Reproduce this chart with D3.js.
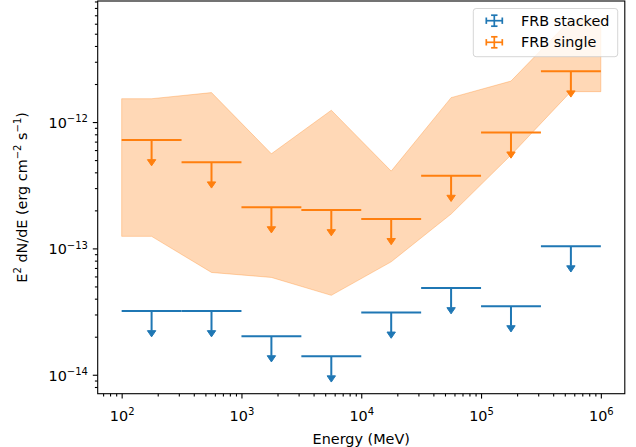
<!DOCTYPE html>
<html>
<head>
<meta charset="utf-8">
<script src="https://cdn.jsdelivr.net/npm/d3@7"></script>
<style>
  body { margin: 0; background: #fff; }
  svg text { font-family: "DejaVu Sans", sans-serif; fill: #000; }
</style>
</head>
<body>
<svg id="chart" width="636" height="447"></svg>
<script>
// Energy bins (MeV): edges and logarithmic centres
const binLow    = [1e2, 3.162e2, 1e3, 3.162e3, 1e4, 3.162e4, 1e5, 3.162e5];
const binHigh   = [3.162e2, 1e3, 3.162e3, 1e4, 3.162e4, 1e5, 3.162e5, 1e6];
const binCenter = [1.778e2, 5.623e2, 1.778e3, 5.623e3, 1.778e4, 5.623e4, 1.778e5, 5.623e5];

// Upper limits on E^2 dN/dE (erg cm^-2 s^-1)
const stackedUL = [3.19e-14, 3.19e-14, 2.02e-14, 1.40e-14, 3.11e-14, 4.85e-14, 3.49e-14, 1.04e-13];
const singleUL  = [7.2e-13, 4.8e-13, 2.12e-13, 2.01e-13, 1.71e-13, 3.76e-13, 8.28e-13, 2.52e-12];

// Spread of the single-burst limits
const bandEnergy = [1e2, 1.778e2, 5.623e2, 1.778e3, 5.623e3, 1.778e4, 5.623e4, 1.778e5, 5.623e5, 1e6];
const bandHigh   = [1.53e-12, 1.53e-12, 1.71e-12, 5.61e-13, 1.24e-12, 4.09e-13, 1.56e-12, 2.11e-12, 6.5e-12, 6.5e-12];
const bandLow    = [1.245e-13, 1.245e-13, 6.45e-14, 5.89e-14, 4.25e-14, 7.83e-14, 1.87e-13, 5.48e-13, 1.74e-12, 1.74e-12];

// Axis ticks: major values and their exponent labels
const xTickValues = [1e2, 1e3, 1e4, 1e5, 1e6];
const xTickExp    = ["2", "3", "4", "5", "6"];
const yTickValues = [1e-14, 1e-13, 1e-12];
const yTickExp    = ["\u221214", "\u221213", "\u221212"];

const seriesNames = ["FRB stacked", "FRB single"];
const colors = { stacked: "#1f77b4", single: "#ff7f0e" };

const ulArrowFraction = 0.3;   // length of the upper-limit arrow, as a fraction of the value

const fontSize = "14.4px";
const supSize = "10px";
const supShift = 5.8;

const svg = d3.select("#chart");
const plot = { left: 97.7, right: 624.8, top: 1, bottom: 393.7 };

const x = d3.scaleLog().domain([Math.pow(10, 1.8), Math.pow(10, 6.2)]).range([plot.left, plot.right]);
const y = d3.scaleLog().domain([Math.pow(10, -14.15), Math.pow(10, -11.042)]).range([plot.bottom, plot.top]);

// minor tick positions (2..9 x 10^k) inside the domains
function minorTicks(scale, k0, k1) {
  const [d0, d1] = scale.domain();
  const out = [];
  for (let k = k0; k <= k1; k++)
    for (let m = 2; m <= 9; m++) {
      const v = m * Math.pow(10, k);
      if (v >= d0 && v <= d1) out.push(v);
    }
  return out;
}

const defs = svg.append("defs");
defs.append("clipPath").attr("id", "plotClip").append("rect")
  .attr("x", plot.left).attr("y", plot.top)
  .attr("width", plot.right - plot.left).attr("height", plot.bottom - plot.top);

const body = svg.append("g").attr("clip-path", "url(#plotClip)");

// shaded band
const area = d3.area()
  .x((d, i) => x(bandEnergy[i]))
  .y0((d, i) => y(bandLow[i]))
  .y1((d, i) => y(bandHigh[i]));
body.append("path")
  .datum(bandEnergy)
  .attr("d", area)
  .attr("fill", colors.single).attr("fill-opacity", 0.3)
  .attr("stroke", colors.single).attr("stroke-opacity", 0.3).attr("stroke-width", 1);

// upper-limit markers: horizontal bin bar, downward line and caret
function drawLimits(values, color) {
  const g = body.append("g");
  const rows = values.map((v, i) => ({ v, lo: binLow[i], hi: binHigh[i], c: binCenter[i] }));
  g.selectAll("line.bar").data(rows).join("line").attr("class", "bar")
    .attr("x1", d => x(d.lo)).attr("x2", d => x(d.hi))
    .attr("y1", d => y(d.v)).attr("y2", d => y(d.v))
    .attr("stroke", color).attr("stroke-width", 2);
  g.selectAll("line.stem").data(rows).join("line").attr("class", "stem")
    .attr("x1", d => x(d.c)).attr("x2", d => x(d.c))
    .attr("y1", d => y(d.v)).attr("y2", d => y(d.v * (1 - ulArrowFraction)))
    .attr("stroke", color).attr("stroke-width", 2);
  g.selectAll("path.head").data(rows).join("path").attr("class", "head")
    .attr("d", d => {
      const cx = x(d.c), cy = y(d.v * (1 - ulArrowFraction));
      return `M${cx - 4.2},${cy}L${cx + 4.2},${cy}L${cx},${cy + 6.2}Z`;
    })
    .attr("fill", color).attr("stroke", color).attr("stroke-width", 1).attr("stroke-linejoin", "miter");
}
drawLimits(stackedUL, colors.stacked);
drawLimits(singleUL, colors.single);

// axes
function supLabel(sel, base, exp) {
  sel.text(null);
  sel.append("tspan").text(base);
  sel.append("tspan").attr("dy", -supShift).attr("font-size", supSize).text(exp);
}

const xAxisG = svg.append("g").attr("transform", `translate(0,${plot.bottom})`);
xAxisG.append("g")
  .call(d3.axisBottom(x).tickValues(minorTicks(x, 1, 6)).tickSize(2.8).tickSizeOuter(0).tickFormat(""))
  .call(g => g.select(".domain").remove());
xAxisG.append("g")
  .call(d3.axisBottom(x).tickValues(xTickValues).tickSize(4.9).tickSizeOuter(0).tickPadding(4.9))
  .call(g => g.select(".domain").remove())
  .call(g => g.selectAll(".tick text")
    .attr("y", 27.5).attr("dy", null)
    .attr("font-size", fontSize).attr("font-family", "DejaVu Sans, sans-serif")
    .each(function (d, i) { supLabel(d3.select(this), "10", xTickExp[i]); }));

const yAxisG = svg.append("g").attr("transform", `translate(${plot.left},0)`);
yAxisG.append("g")
  .call(d3.axisLeft(y).tickValues(minorTicks(y, -15, -12)).tickSize(2.8).tickSizeOuter(0).tickFormat(""))
  .call(g => g.select(".domain").remove());
yAxisG.append("g")
  .call(d3.axisLeft(y).tickValues(yTickValues).tickSize(4.9).tickSizeOuter(0).tickPadding(4.9))
  .call(g => g.select(".domain").remove())
  .call(g => g.selectAll(".tick text")
    .attr("dy", null).attr("y", 5.4)
    .attr("font-size", fontSize).attr("font-family", "DejaVu Sans, sans-serif")
    .each(function (d, i) { supLabel(d3.select(this), "10", yTickExp[i]); }));

svg.selectAll(".tick line").attr("stroke", "#000").attr("stroke-width", 1.1);

// frame
svg.append("rect")
  .attr("x", plot.left).attr("y", plot.top)
  .attr("width", plot.right - plot.left).attr("height", plot.bottom - plot.top)
  .attr("fill", "none").attr("stroke", "#000").attr("stroke-width", 1.1);

// axis titles
svg.append("text")
  .attr("x", (plot.left + plot.right) / 2).attr("y", 443.5)
  .attr("text-anchor", "middle").attr("font-size", fontSize)
  .text("Energy (MeV)");

const yTitle = svg.append("text")
  .attr("transform", `translate(26.7,${(plot.top + plot.bottom) / 2}) rotate(-90)`)
  .attr("text-anchor", "middle").attr("font-size", fontSize);
yTitle.append("tspan").text("E");
yTitle.append("tspan").attr("dy", -supShift).attr("font-size", supSize).text("2");
yTitle.append("tspan").attr("dy", supShift).text(" dN/dE (erg cm");
yTitle.append("tspan").attr("dy", -supShift).attr("font-size", supSize).text("\u22122");
yTitle.append("tspan").attr("dy", supShift).text(" s");
yTitle.append("tspan").attr("dy", -supShift).attr("font-size", supSize).text("\u22121");
yTitle.append("tspan").attr("dy", supShift).text(")");

// legend
const legend = svg.append("g");
legend.append("rect")
  .attr("x", 473.3).attr("y", 8.5).attr("width", 144.4).attr("height", 48.2).attr("rx", 2.8)
  .attr("fill", "#fff").attr("fill-opacity", 0.8)
  .attr("stroke", "#cccccc").attr("stroke-opacity", 0.8).attr("stroke-width", 1);

const legendRows = [
  { name: seriesNames[0], color: colors.stacked, cy: 20.7 },
  { name: seriesNames[1], color: colors.single, cy: 42.3 }
];
legendRows.forEach(r => {
  const g = legend.append("g").attr("stroke", r.color).attr("stroke-width", 1.7);
  const cx = 494.3;
  g.append("line").attr("x1", cx - 8).attr("x2", cx + 8).attr("y1", r.cy).attr("y2", r.cy);
  g.append("line").attr("x1", cx).attr("x2", cx).attr("y1", r.cy - 5.5).attr("y2", r.cy + 5.5);
  g.append("line").attr("x1", cx - 8).attr("x2", cx - 8).attr("y1", r.cy - 3.2).attr("y2", r.cy + 3.2);
  g.append("line").attr("x1", cx + 8).attr("x2", cx + 8).attr("y1", r.cy - 3.2).attr("y2", r.cy + 3.2);
  g.append("line").attr("x1", cx - 3.2).attr("x2", cx + 3.2).attr("y1", r.cy - 5.5).attr("y2", r.cy - 5.5);
  g.append("line").attr("x1", cx - 3.2).attr("x2", cx + 3.2).attr("y1", r.cy + 5.5).attr("y2", r.cy + 5.5);
  legend.append("text")
    .attr("x", 521).attr("y", r.cy + 5)
    .attr("font-size", fontSize)
    .text(r.name);
});
</script>
</body>
</html>
